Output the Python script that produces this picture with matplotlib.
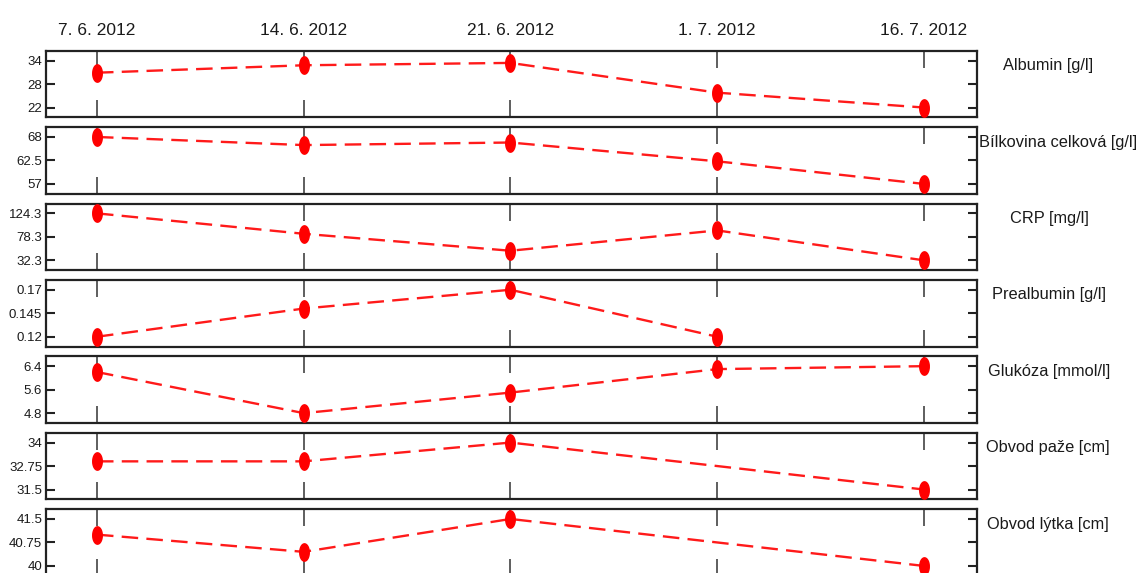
import numpy as np
import matplotlib
matplotlib.use("Agg")
import matplotlib.pyplot as plt

plt.rcParams['font.family'] = ['Liberation Sans', 'DejaVu Sans']

# Visit dates (evenly spaced categories)
dates = ['7. 6. 2012', '14. 6. 2012', '21. 6. 2012', '1. 7. 2012', '16. 7. 2012']

# Measured parameters (nan = not measured on that date)
albumin = [30.9, 32.8, 33.4, 25.8, 22.0]
bilkovina = [68.0, 66.1, 66.7, 62.3, 57.0]
crp = [124.3, 84.3, 51.1, 90.9, 32.3]
prealbumin = [0.12, 0.15, 0.17, 0.12, np.nan]
glukoza = [6.2, 4.8, 5.5, 6.3, 6.4]
obvod_paze = [33.0, 33.0, 34.0, np.nan, 31.5]
obvod_lytka = [41.0, 40.45, 41.5, np.nan, 40.0]

names = ['Albumin [g/l]', 'Bílkovina celková [g/l]', 'CRP [mg/l]', 'Prealbumin [g/l]',
         'Glukóza [mmol/l]', 'Obvod paže [cm]', 'Obvod lýtka [cm]']
series = [albumin, bilkovina, crp, prealbumin, glukoza, obvod_paze, obvod_lytka]

tick_values = [
    [22, 28, 34],
    [57, 62.5, 68],
    [32.3, 78.3, 124.3],
    [0.12, 0.145, 0.17],
    [4.8, 5.6, 6.4],
    [31.5, 32.75, 34],
    [40, 40.75, 41.5],
]
tick_labels = [
    ['22', '28', '34'],
    ['57', '62.5', '68'],
    ['32.3', '78.3', '124.3'],
    ['0.12', '0.145', '0.17'],
    ['4.8', '5.6', '6.4'],
    ['31.5', '32.75', '34'],
    ['40', '40.75', '41.5'],
]

W, H = 1139, 573
fig = plt.figure(figsize=(W / 100, H / 100), dpi=100)

left_px, right_px = 45.7, 976.7
top0_px, step_px, height_px = 50.7, 76.4, 66.7
# horizontal centre (pixels) of each parameter name on the right
name_x_px = [1048, 1058, 1049, 1049, 1049, 1048, 1048]

# tall elliptical marker
t = np.linspace(0, 2 * np.pi, 60)
ellipse = np.column_stack([0.55 * np.cos(t), np.sin(t)])

line_red = '#ff1a1a'
frame = '#222222'
x = np.arange(len(dates))

for i, (name, vals, tv, tl) in enumerate(zip(names, series, tick_values, tick_labels)):
    top = top0_px + i * step_px
    ax = fig.add_axes([left_px / W, 1 - (top + height_px) / H,
                       (right_px - left_px) / W, height_px / H])
    v = np.asarray(vals, dtype=float)
    ok = ~np.isnan(v)
    ax.plot(x[ok], v[ok], color=line_red, lw=1.7, dashes=(7, 3.5), zorder=2)
    ax.plot(x[ok], v[ok], ls='none', marker=ellipse, ms=12.5,
            color='#ff0000', mec='#ff0000', zorder=3)

    lo, hi = tv[0], tv[-1]
    r = hi - lo
    ax.set_ylim(lo - 0.21 * r, hi + 0.21 * r)
    ax.set_xlim(-0.248, 4.255)

    ax.set_yticks(tv)
    ax.set_yticklabels(tl)
    ax.set_xticks(x)
    ax.tick_params(axis='y', direction='in', left=True, right=True, length=6.5,
                   width=1.5, color=frame, labelsize=9.5, pad=2.5, labelcolor='#1a1a1a')
    ax.tick_params(axis='x', direction='in', top=True, bottom=True, length=12.5,
                   width=1.1, color='#333333', labelbottom=False,
                   labeltop=(i == 0), labelsize=12.5, pad=9, labelcolor='#1a1a1a')
    if i == 0:
        ax.set_xticklabels(dates)
    for sp in ax.spines.values():
        sp.set_linewidth(1.6)
        sp.set_color(frame)

    ax.text((name_x_px[i] - left_px) / (right_px - left_px), 1 - 15 / height_px, name,
            transform=ax.transAxes, ha='center', va='center', fontsize=11.8,
            color='#1a1a1a', clip_on=False)

fig.savefig('out.png', dpi=100, facecolor='white')
